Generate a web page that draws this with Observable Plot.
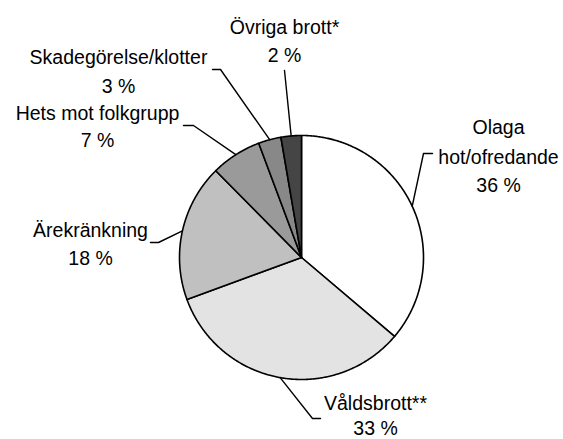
<!DOCTYPE html>
<html><head><meta charset="utf-8">
<script src="https://cdn.jsdelivr.net/npm/d3@7"></script>
<script src="https://cdn.jsdelivr.net/npm/@observablehq/plot@0.6"></script>
<style>body{margin:0;background:#fff}</style>
</head><body><div id="chart"></div>
<script>
// ---- data ----
const categories = ["Olaga hot/ofredande", "Våldsbrott**", "Ärekränkning", "Hets mot folkgrupp", "Skadegörelse/klotter", "Övriga brott*"];
const nameLines = [["Olaga", "hot/ofredande"], ["Våldsbrott**"], ["Ärekränkning"], ["Hets mot folkgrupp"], ["Skadegörelse/klotter"], ["Övriga brott*"]];
const values = [36.2, 33.2, 18.2, 6.7, 3.0, 2.7];
const pctLabels = ["36 %", "33 %", "18 %", "7 %", "3 %", "2 %"];

// ---- styles / layout ----
const fills = ["#ffffff", "#e3e3e3", "#c0c0c0", "#9a9a9a", "#888888", "#454545"];
const W = 563, H = 439, CX = 301, CY = 257, R = 122;
const labelX = [498, 375, 90, 97, 118, 284];
const nameY = [[127, 157], [403], [230], [113], [57], [27]];
const pctY = [185, 428, 258, 140, 86, 55];
const elbows = [[423, 153], [312, 418], [158, 242], [193, 125], [220, 69], [284, 70]];
const ends = [[432, 153], [320, 418], [150, 242], [183, 125], [212, 69], [284, 70]];

// ---- geometry from data ----
const arcs = d3.pie().sort(null).value(d => d)(values);
const pt = (a, r = R) => [CX + r * Math.sin(a), CY - r * Math.cos(a)];

const sliceMarks = arcs.map((a, i) => {
  const pts = [[CX, CY]];
  const n = Math.max(2, Math.ceil((a.endAngle - a.startAngle) / (Math.PI / 360)));
  for (let k = 0; k <= n; k++) pts.push(pt(a.startAngle + (a.endAngle - a.startAngle) * k / n));
  pts.push([CX, CY]);
  return Plot.line(pts, {x: d => d[0], y: d => d[1], fill: fills[i], stroke: "black", strokeWidth: 1.6, strokeLinejoin: "round", curve: "linear"});
});

const leaders = [];
arcs.forEach((a, i) => {
  const m = (a.startAngle + a.endAngle) / 2;
  const e = pt(m);
  leaders.push({k: i, x: e[0], y: e[1]}, {k: i, x: elbows[i][0], y: elbows[i][1]}, {k: i, x: ends[i][0], y: ends[i][1]});
});

const texts = [];
categories.forEach((c, i) => {
  nameLines[i].forEach((t, j) => texts.push({t, x: labelX[i], y: nameY[i][j]}));
  texts.push({t: pctLabels[i], x: labelX[i], y: pctY[i]});
});

const chart = Plot.plot({
  width: W, height: H, margin: 0,
  x: {type: "linear", domain: [0, W], range: [0, W], axis: null},
  y: {type: "linear", domain: [0, H], range: [0, H], axis: null},
  style: {fontFamily: "'Liberation Sans', Arial, sans-serif", background: "#fff"},
  marks: [
    ...sliceMarks,
    Plot.line(leaders, {x: "x", y: "y", z: "k", stroke: "black", strokeWidth: 1.4, curve: "linear"}),
    Plot.text(texts, {x: "x", y: "y", text: "t", fontSize: 19.5, fill: "black", textAnchor: "middle"})
  ]
});
document.getElementById("chart").appendChild(chart);
</script>
</body></html>
